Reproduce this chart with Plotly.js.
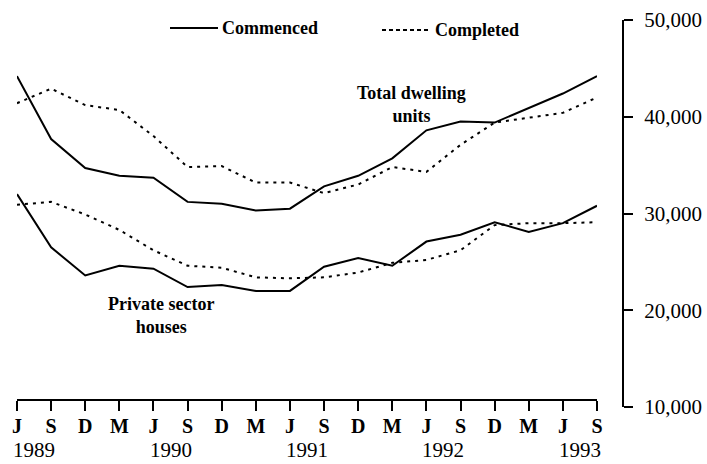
<!DOCTYPE html>
<html>
<head>
<meta charset="utf-8">
<script src="https://cdn.plot.ly/plotly-3.0.1.min.js"></script>
<style>html,body{margin:0;padding:0;background:#fff;}#chart{width:707px;height:464px;}</style>
</head>
<body>
<div id="chart"></div>
<script>
// Quarter labels (month initial)
const months = ["J","S","D","M","J","S","D","M","J","S","D","M","J","S","D","M","J","S"];
// Year labels and the quarter positions they sit between
const years = ["1989","1990","1991","1992","1993"];
const yearPos = [0.5, 4.5, 8.5, 12.5, 16.5];

// Total dwelling units
const totalCommenced = [44200,37700,34700,33900,33700,31200,31000,30300,30500,32800,33900,35700,38600,39500,39400,40900,42400,44200];
const totalCompleted = [41400,42900,41200,40700,38000,34800,34900,33200,33200,32100,33000,34800,34300,37100,39400,39900,40400,42000];

// Private sector houses
const privateCommenced = [32000,26500,23600,24600,24300,22400,22600,22000,22000,24500,25400,24600,27100,27800,29100,28100,29000,30800];
const privateCompleted = [30900,31200,29900,28300,26200,24600,24400,23400,23300,23400,23900,24900,25200,26200,28800,29000,29000,29100];

const yTicks = [10000,20000,30000,40000,50000];
const yTickText = ["10,000","20,000","30,000","40,000","50,000"];

const idx = months.map((_, i) => i);

const serif = "Liberation Serif, Times New Roman, serif";
const solid = {color: "#000", width: 2};
const dotted = {color: "#000", width: 2, dash: "3px,5px"};

const traces = [
  {x: idx, y: totalCommenced, mode: "lines", line: solid, name: "Commenced"},
  {x: idx, y: totalCompleted, mode: "lines", line: dotted, name: "Completed"},
  {x: idx, y: privateCommenced, mode: "lines", line: solid, name: "Commenced"},
  {x: idx, y: privateCompleted, mode: "lines", line: dotted, name: "Completed"},
  // invisible carrier for the label-only axis
  {x: idx, y: privateCompleted, mode: "lines", line: {width: 0}, xaxis: "x2", hoverinfo: "skip", opacity: 0}
];

// plot area: left 17, width 606, top 20, height 387
const L = 17, W = 606, T = 20, H = 387;
const px = v => (v - L) / W;
const py = v => (T + H - v) / H;
const xPos = 7 / H;

const layout = {
  width: 707, height: 464,
  margin: {l: L, r: 707 - L - W, t: T, b: 464 - T - H},
  paper_bgcolor: "#fff", plot_bgcolor: "#fff",
  showlegend: false,
  font: {family: serif, color: "#000", size: 18, weight: "bold"},
  xaxis: {
    domain: [0, 580 / W], range: [0, 17],
    anchor: "free", position: xPos,
    tickmode: "array", tickvals: idx, showticklabels: false,
    showline: true, linecolor: "#000", linewidth: 2,
    ticks: "outside", ticklen: 10, tickwidth: 2, tickcolor: "#000",
    showgrid: false, zeroline: false
  },
  xaxis2: {
    domain: [0, 580 / W], range: [0, 17], overlaying: "x",
    anchor: "free", position: xPos,
    tickmode: "array", tickvals: idx, ticktext: months,
    showline: false, ticks: "outside", ticklen: 8, tickcolor: "rgba(0,0,0,0)",
    showgrid: false, zeroline: false,
    tickfont: {family: serif, size: 20, color: "#000", weight: "bold"}
  },
  yaxis: {
    range: [10000, 50000], side: "right", anchor: "free", position: 1,
    tickmode: "array", tickvals: yTicks, ticktext: yTickText,
    showline: true, linecolor: "#000", linewidth: 2,
    ticks: "outside", ticklen: 9, tickwidth: 2, tickcolor: "#000",
    ticklabelstandoff: 7,
    showgrid: false, zeroline: false,
    tickfont: {family: serif, size: 21, color: "#000", weight: "normal"}
  },
  shapes: [
    {type: "line", xref: "paper", yref: "paper", x0: px(170), x1: px(218), y0: py(28), y1: py(28), line: {color: "#000", width: 2}},
    {type: "line", xref: "paper", yref: "paper", x0: px(382), x1: px(430), y0: py(30), y1: py(30), line: {color: "#000", width: 2, dash: "4px,3px"}}
  ],
  annotations: [
    {xref: "paper", yref: "paper", x: px(220), y: py(28), xanchor: "left", yanchor: "middle", text: "Commenced", showarrow: false},
    {xref: "paper", yref: "paper", x: px(433), y: py(30), xanchor: "left", yanchor: "middle", text: "Completed", showarrow: false},
    {xref: "paper", yref: "paper", x: px(412), y: py(104), xanchor: "center", yanchor: "middle", text: "Total dwelling<br>units", showarrow: false},
    {xref: "paper", yref: "paper", x: px(161), y: py(315), xanchor: "center", yanchor: "middle", text: "Private sector<br>houses", showarrow: false}
  ].concat(years.map((yr, i) => ({
    xref: "x", yref: "paper", x: yearPos[i], y: py(450), xanchor: "center", yanchor: "middle",
    text: yr, showarrow: false, font: {family: serif, size: 21, color: "#000", weight: "normal"}
  })))
};

Plotly.newPlot("chart", traces, layout, {staticPlot: true, displayModeBar: false});
</script>
</body>
</html>
